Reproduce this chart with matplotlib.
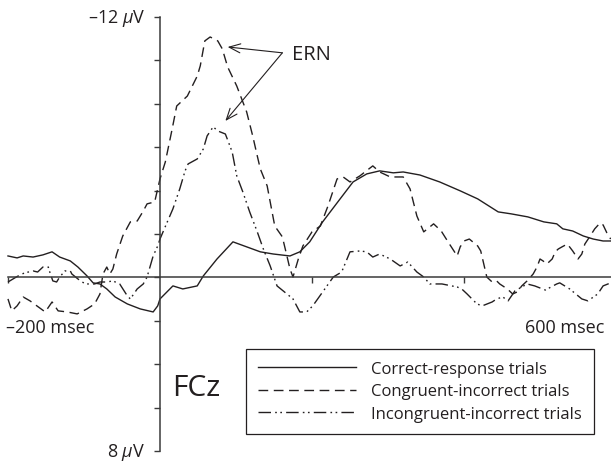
import matplotlib
matplotlib.use('Agg')
import matplotlib.pyplot as plt
import numpy as np

# 데이터 (msec, µV) - 그림에서 읽은 값
t_correct = [-200, -188, -180, -167, -154, -142, -132, -118, -108, -96,
             -88, -79, -70, -59, -43, -26, -9, -3, 0, 17,
             30, 49, 57, 75, 96, 114, 132, 149, 171, 184,
             197, 214, 237, 254, 272, 289, 307, 320, 342, 368,
             395, 418, 445, 462, 484, 505, 522, 530, 543, 557,
             570, 583, 593]
v_correct = [-0.99, -0.9, -0.99, -0.94, -1.04, -1.18, -0.94, -0.76, -0.48, -0.07,
             0.25, 0.3, 0.53, 0.9, 1.22, 1.45, 1.59, 1.31, 0.99, 0.39,
             0.53, 0.39, -0.07, -0.85, -1.64, -1.41, -1.18, -1.08, -0.99, -1.18,
             -1.64, -2.56, -3.62, -4.4, -4.77, -4.91, -4.82, -4.86, -4.72, -4.4,
             -3.99, -3.62, -3.02, -2.93, -2.79, -2.56, -2.47, -2.24, -2.14, -1.91,
             -1.77, -1.68, -1.68]

t_congruent = [-200, -195, -188, -180, -171, -162, -151, -142, -134, -122,
               -109, -96, -86, -79, -75, -70, -66, -62, -57, -49,
               -39, -30, -22, -17, -7, 0, 7, 16, 22, 36,
               49, 53, 59, 66, 76, 82, 89, 101, 114, 122,
               128, 132, 141, 151, 161, 167, 171, 175, 182, 188,
               200, 211, 221, 233, 241, 250, 263, 280, 289, 303,
               320, 329, 338, 347, 360, 370, 379, 391, 395, 400,
               407, 418, 422, 430, 437, 443, 447, 457, 464, 470,
               476, 483, 491, 496, 500, 504, 509, 516, 520, 524,
               529, 536, 543, 550, 555, 559, 566, 572, 579, 583,
               588, 593]
v_congruent = [0.99, 1.54, 1.31, 0.9, 1.08, 1.31, 1.59, 1.13, 1.54, 1.59,
               1.68, 1.45, 1.22, 0.76, -0.16, -0.48, -0.16, -0.39, -1.08, -1.91,
               -2.56, -2.6, -3.06, -3.39, -3.48, -4.54, -5.32, -6.84, -7.9, -8.36,
               -9.28, -9.75, -10.9, -11.08, -10.9, -10.53, -9.7, -8.82, -7.63, -6.52,
               -5.6, -5.0, -4.22, -2.37, -1.87, -0.99, -0.39, -0.02, -0.85, -1.45,
               -2.1, -2.37, -3.29, -4.54, -4.63, -4.4, -4.68, -5.14, -4.86, -4.63,
               -4.63, -4.08, -2.83, -2.1, -2.47, -2.14, -1.64, -0.99, -1.41, -1.68,
               -1.77, -1.45, -1.22, -0.02, 0.21, 0.16, 0.3, 0.53, 0.76, 0.67,
               0.39, 0.16, -0.16, -0.48, -0.85, -0.76, -0.62, -0.85, -1.18, -1.31,
               -1.41, -1.54, -1.22, -0.85, -1.08, -1.54, -1.91, -2.24, -2.51, -2.42,
               -2.05, -1.77]

t_incongruent = [-200, -191, -184, -178, -167, -161, -154, -147, -145, -141,
                 -136, -132, -125, -118, -116, -103, -96, -86, -79, -70,
                 -62, -53, -43, -39, -30, -22, -17, -9, -3, 0,
                 9, 17, 26, 33, 37, 49, 57, 62, 70, 76,
                 86, 92, 95, 101, 109, 118, 128, 136, 145, 154,
                 167, 175, 184, 193, 201, 214, 228, 239, 250, 263,
                 272, 280, 289, 303, 316, 326, 338, 347, 355, 371,
                 391, 397, 404, 417, 424, 437, 443, 451, 458, 467,
                 483, 493, 507, 522, 526, 539, 555, 563, 576, 583,
                 593]
v_incongruent = [0.21, 0.02, -0.12, -0.21, -0.3, -0.25, -0.48, -0.48, -0.25, 0.16,
                 0.21, -0.02, -0.3, -0.3, -0.16, 0.21, 0.3, 0.3, 0.21, 0.21,
                 0.16, 0.3, 0.85, 0.99, 0.53, 0.3, -0.02, -0.99, -1.45, -1.77,
                 -2.51, -3.16, -4.08, -4.91, -5.23, -5.46, -5.92, -6.52, -6.94, -6.75,
                 -6.61, -6.06, -5.78, -4.68, -3.94, -3.02, -2.1, -1.31, -0.53, 0.39,
                 0.76, 0.99, 1.59, 1.59, 1.31, 0.67, -0.02, -0.25, -1.18, -1.22,
                 -1.18, -0.94, -1.08, -0.85, -0.53, -0.71, -0.25, -0.02, 0.3, 0.3,
                 0.44, 0.53, 0.76, 1.22, 1.31, 1.13, 0.99, 0.9, 1.08, 0.62,
                 0.3, 0.39, 0.58, 0.3, 0.25, 0.53, 0.99, 1.08, 0.76, 0.39,
                 0.25]

labels = ['Correct-response trials', 'Congruent-incorrect trials', 'Incongruent-incorrect trials']
y_ticks = np.arange(-12, 9, 2)
x_ticks = [-200, 200, 400]

# 폰트
plt.rcParams['font.family'] = ['Open Sans', 'DejaVu Sans']
plt.rcParams['mathtext.fontset'] = 'custom'
plt.rcParams['mathtext.rm'] = 'Open Sans'
plt.rcParams['mathtext.it'] = 'Open Sans:italic'

ink = '#231f20'
axis_col = '#3a3a3a'

fig = plt.figure(figsize=(6.11, 4.64), dpi=100)
ax = fig.add_axes([0, 0, 1, 1])
ax.set_xlim(-210.5, 593.4)
ax.set_ylim(8.55, -12.83)  # 음수가 위쪽

l1, = ax.plot(t_correct, v_correct, color=ink, lw=1.0)
l2, = ax.plot(t_congruent, v_congruent, color=ink, lw=1.0, dashes=(7, 4))
l3, = ax.plot(t_incongruent, v_incongruent, color=ink, lw=1.0,
              dashes=(9, 3, 1.2, 2.5, 1.2, 3))

# 축 (0을 지나는 십자 모양)
ax.spines['top'].set_visible(False)
ax.spines['right'].set_visible(False)
ax.spines['left'].set_position(('data', 0))
ax.spines['left'].set_bounds(-12, 8)
ax.spines['bottom'].set_position(('data', 0))
ax.spines['bottom'].set_bounds(-200, 600)
for s in ['left', 'bottom']:
    ax.spines[s].set_color(axis_col)
    ax.spines[s].set_linewidth(1.1)
ax.set_yticks(y_ticks)
ax.set_yticklabels([])
ax.set_xticks(x_ticks)
ax.set_xticklabels([])
ax.tick_params(direction='out', length=4.5, width=1.0, color=axis_col)

# 축 레이블
ax.annotate('\u201312 $\\mu$V', xy=(0, -12), xytext=(-15, 0), textcoords='offset pixels',
            ha='right', va='center', fontsize=13, color=ink)
ax.annotate('8 $\\mu$V', xy=(0, 8), xytext=(-15, 0), textcoords='offset pixels',
            ha='right', va='center', fontsize=13, color=ink)
ax.text(6 / 611, 1 - 328 / 464, '\u2013200 msec', transform=ax.transAxes,
        ha='left', va='center', fontsize=13, color=ink)
ax.text(604 / 611, 1 - 328 / 464, '600 msec', transform=ax.transAxes,
        ha='right', va='center', fontsize=13, color=ink)
ax.text(172 / 611, 1 - 389 / 464, 'FCz', transform=ax.transAxes,
        ha='left', va='center', fontsize=21.5, color=ink)

# ERN 화살표
ax.text(292 / 611, 1 - 54.5 / 464, 'ERN', transform=ax.transAxes,
        ha='left', va='center', fontsize=14.5, color=ink)
arrow = dict(arrowstyle='->,head_length=0.45,head_width=0.18', color=ink, lw=0.8,
             shrinkA=0, shrinkB=0, mutation_scale=18)
ax.annotate('', xy=(89, -10.62), xytext=(161, -10.35), arrowprops=arrow)
ax.annotate('', xy=(86, -7.21), xytext=(161, -10.35), arrowprops=arrow)

# 범례
leg = ax.legend([l1, l2, l3], labels, loc='upper left',
                bbox_to_anchor=(246 / 611, 1 - 350 / 464), borderaxespad=0,
                fontsize=12, frameon=True, fancybox=False, edgecolor=ink,
                framealpha=1, handlelength=5.9, handletextpad=0.9,
                borderpad=0.72, labelspacing=0.38)
leg.get_frame().set_linewidth(0.9)
for txt in leg.get_texts():
    txt.set_color(ink)

fig.savefig('out.png', dpi=100)
